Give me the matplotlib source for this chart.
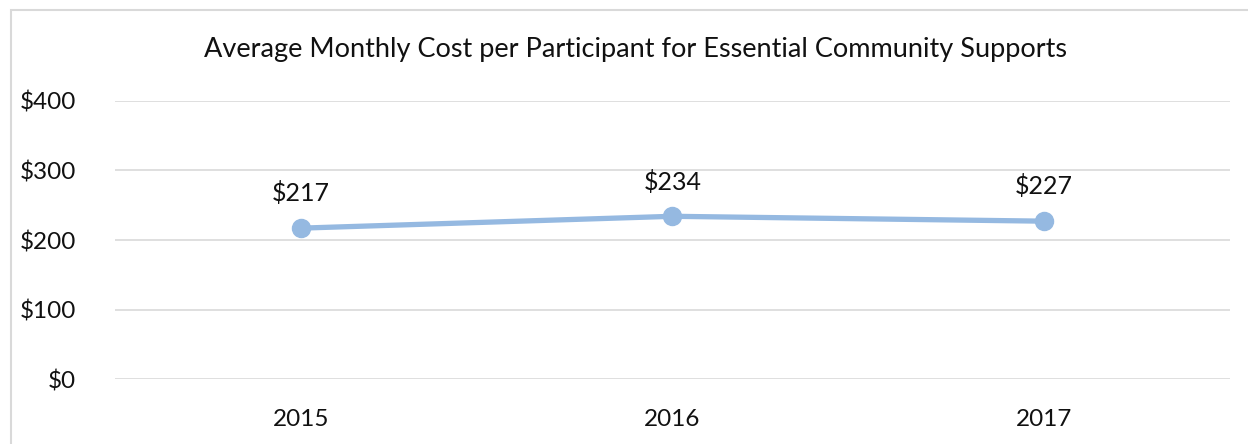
import matplotlib.pyplot as plt
from matplotlib.patches import Rectangle

years = ["2015", "2016", "2017"]
avg_cost = [217, 234, 227]
y_ticks = [0, 100, 200, 300, 400]

plt.rcParams['font.family'] = ['Lato', 'DejaVu Sans']

fig = plt.figure(figsize=(12.48, 4.44), dpi=100)
ax = fig.add_axes([0.0921, 0.1453, 0.8935, 0.6283])

x = list(range(len(years)))
ax.plot(x, avg_cost, color='#95B9E1', linewidth=3.8, marker='o',
        markersize=13, solid_capstyle='round', zorder=3)

# data labels above each point
for xi, v in zip(x, avg_cost):
    ax.annotate(f"${v}", (xi, v), xytext=(0, 25), textcoords='offset points',
                ha='center', va='center', fontsize=18, color='#111111')

ax.set_xlim(-0.5, len(years) - 0.5)
ax.set_ylim(0, 400)
ax.set_yticks(y_ticks)
ax.set_yticklabels([f"${t}" for t in y_ticks])
ax.set_xticks(x)
ax.set_xticklabels(years)
ax.tick_params(length=0, labelsize=17.5, colors='#111111')
ax.tick_params(axis='y', pad=28)
ax.tick_params(axis='x', pad=21)
ax.grid(axis='y', color='#D9D9D9', linewidth=1.2)
ax.set_axisbelow(True)
for s in ax.spines.values():
    s.set_visible(False)

fig.text(0.509, 1 - 50 / 444, "Average Monthly Cost per Participant for Essential Community Supports",
         ha='center', va='center', fontsize=19.5, color='#111111')

# chart border
fig.patches.append(Rectangle((11 / 1248, -0.1), 1.2, 1.1 - 10 / 444, transform=fig.transFigure,
                             fill=False, edgecolor='#D9D9D9', linewidth=1.5))

fig.savefig("out.png", dpi=100)
